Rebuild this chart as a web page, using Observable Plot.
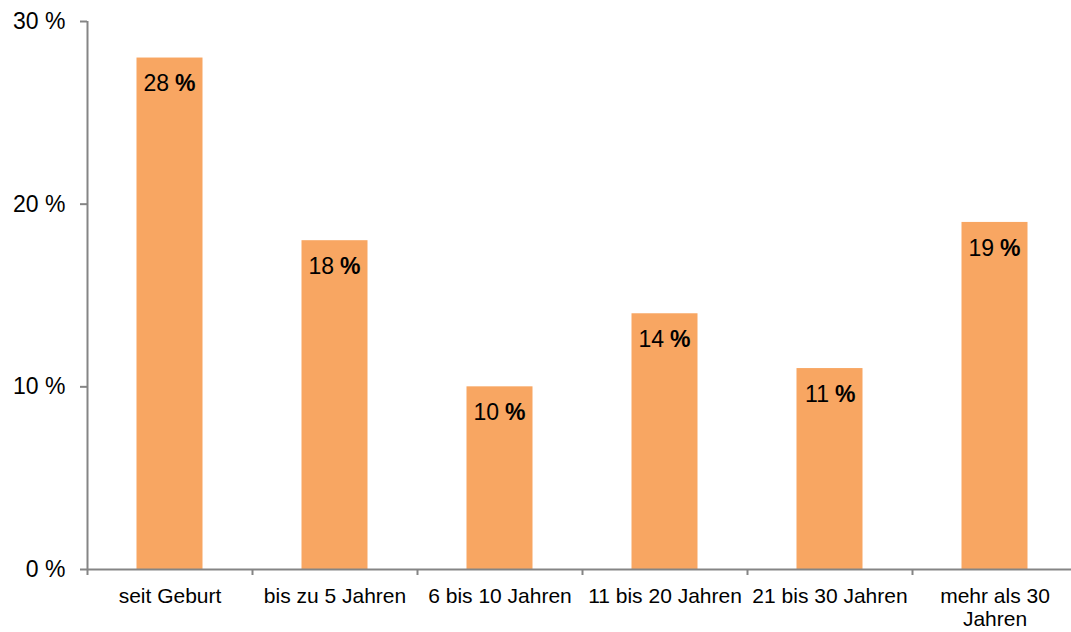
<!DOCTYPE html>
<html>
<head>
<meta charset="utf-8">
<script src="https://cdn.jsdelivr.net/npm/d3@7"></script>
<script src="https://cdn.jsdelivr.net/npm/@observablehq/plot@0.6"></script>
<style>
  html, body { margin: 0; padding: 0; background: #fff; overflow: hidden; }
  #chart svg { display: block; }
</style>
</head>
<body>
<div id="chart"></div>
<script>
const categories = ["seit Geburt", "bis zu 5 Jahren", "6 bis 10 Jahren", "11 bis 20 Jahren", "21 bis 30 Jahren", "mehr als 30\nJahren"];
const values = [28, 18, 10, 14, 11, 19];
const yTicks = [0, 10, 20, 30];

const data = categories.map((c, i) => ({category: c, value: values[i]}));

const barColor = "#F8A662";
const axisColor = "#858585";
const font = "Liberation Sans, Arial, Helvetica, sans-serif";

const chart = Plot.plot({
  width: 1071,
  height: 632,
  marginLeft: 87,
  marginRight: 0,
  marginTop: 21,
  marginBottom: 63,
  style: {fontFamily: font, fontSize: "21px", color: "#000", background: "#fff"},
  x: {domain: categories, range: [87, 1077], paddingInner: 0.6, paddingOuter: 0.3, align: 0.5, round: false, label: null},
  y: {domain: [0, 30], label: null},
  marks: [
    Plot.barY(data, {x: "category", y: "value", fill: barColor}),
    // x axis baseline
    Plot.ruleY([0], {stroke: axisColor, strokeWidth: 2}),
    // y axis line at left edge of first band
    Plot.ruleX([categories[0]], {x: d => d, dx: -82.5, y1: 0, y2: 30, stroke: axisColor, strokeWidth: 2}),
    // x tick marks at band boundaries
    Plot.ruleX(categories, {x: d => d, dx: -82.5, y1: 0, y2: 0, insetBottom: -6, stroke: axisColor, strokeWidth: 2}),
    Plot.axisY({ticks: yTicks, tickFormat: d => d + " %", tickSize: 7, tickPadding: 15, stroke: axisColor, strokeWidth: 2, strokeOpacity: 1, fontSize: 23, label: null}),
    Plot.axisX({tickSize: 0, tickPadding: 17, fontSize: 21, lineHeight: 1.1, label: null}),
    // value labels: number then bold percent sign
    Plot.text(data, {x: "category", y: "value", text: d => String(d.value), textAnchor: "end", dx: -1, dy: 26, lineAnchor: "middle", fontSize: 23, fill: "#000"}),
    Plot.text(data, {x: "category", y: "value", text: d => "%", textAnchor: "start", dx: 5, dy: 26, lineAnchor: "middle", fontSize: 23, fontWeight: "bold", fill: "#000"})
  ]
});

document.getElementById("chart").appendChild(chart);
</script>
</body>
</html>
